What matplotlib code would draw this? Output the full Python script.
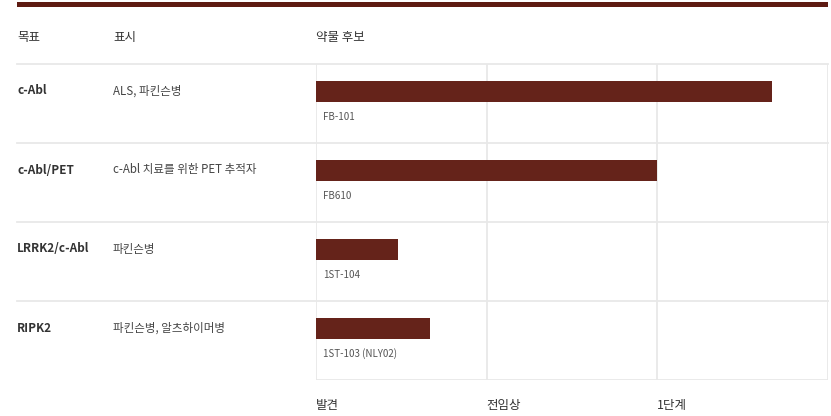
import matplotlib.pyplot as plt
import numpy as np

plt.rcParams['font.family'] = ['Noto Sans CJK KR', 'DejaVu Sans']

# --- data ---
targets = ['c-Abl', 'c-Abl/PET', 'LRRK2/c-Abl', 'RIPK2']
indications = ['ALS, 파킨슨병', 'c-Abl 치료를 위한 PET 추적자', '파킨슨병', '파킨슨병, 알츠하이머병']
candidates = ['FB-101', 'FB610', '1ST-104', '1ST-103 (NLY02)']
progress = [2.67, 2.0, 0.48, 0.67]
stages = ['발견', '전임상', '1단계']

W, H = 831, 416
bar_color = '#65231a'
grid_color = '#e8e8e8'
text_color = '#333333'

fig = plt.figure(figsize=(W / 100, H / 100), dpi=100)

# background layer in pixel coords for table layout
bg = fig.add_axes([0, 0, 1, 1])
bg.set_xlim(0, W)
bg.set_ylim(H, 0)
bg.axis('off')

bg.fill_between([17, 828], 2, 7, color='#5e1b12', lw=0)

row_top, row_h = 64, 79
for i in range(len(targets)):
    y0 = row_top + i * row_h
    bg.plot([17, 828], [y0, y0], color=grid_color, lw=1.3)
    bg.text(17, y0 + 27, targets[i], fontsize=8.5, fontweight='bold',
            color=text_color, va='center', ha='left')
    bg.text(113, y0 + 27, indications[i], fontsize=8.3, color='#444444',
            va='center', ha='left')

bg.text(17, 38, '목표', fontsize=9, color=text_color, va='center')
bg.text(113, 38, '표시', fontsize=9, color=text_color, va='center')
bg.text(316, 38, '약물 후보', fontsize=9, color=text_color, va='center')

# chart axes
x0, x1 = 316, 828
y_top, y_bot = row_top, row_top + row_h * len(targets)
ax = fig.add_axes([x0 / W, 1 - y_bot / H, (x1 - x0) / W, (y_bot - y_top) / H])
ax.set_xlim(0, len(stages))
ax.set_ylim(len(targets), 0)
ax.patch.set_alpha(0)

ypos = np.arange(len(targets)) + 17 / row_h
ax.barh(ypos, progress, height=21 / row_h, align='edge', color=bar_color, zorder=3)
for i, name in enumerate(candidates):
    ax.text(0.04, i + 53 / row_h, name, fontsize=7, color='#555555',
            va='center', ha='left')

for s in range(len(stages) + 1):
    ax.axvline(s, color=grid_color, lw=1.3, zorder=1)
ax.axhline(len(targets), color=grid_color, lw=1.3, zorder=1)
for sp in ax.spines.values():
    sp.set_visible(False)

ax.set_xticks(range(len(stages)))
ax.set_xticklabels(stages, ha='left', fontsize=9, color=text_color)
ax.tick_params(axis='x', length=0, pad=14)
ax.set_yticks([])

fig.savefig('out.png', dpi=100)
